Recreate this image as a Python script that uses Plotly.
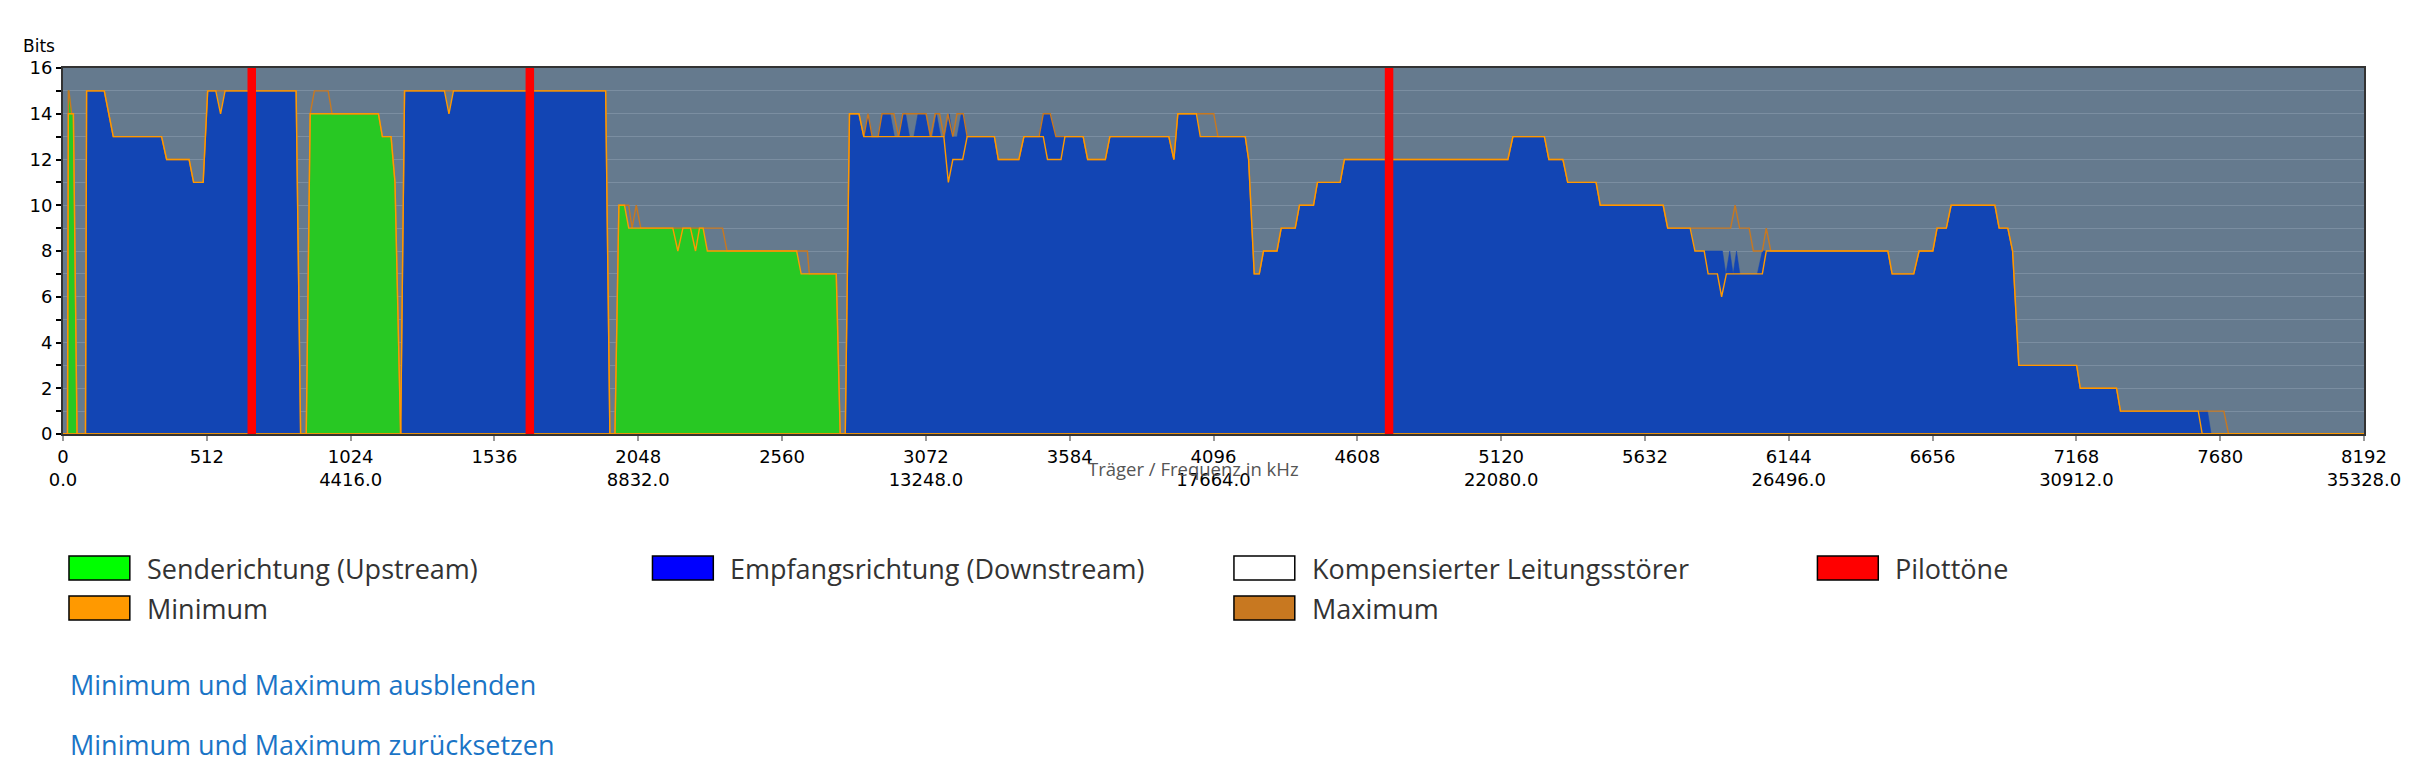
import plotly.graph_objects as go

# ---------------- data (carrier index, bits) ----------------
# Upstream (Senderichtung) current bit loading
us_points = [(0, 0), (16, 0), (19, 15), (21, 15), (31, 14), (37, 14), (50, 0),
             (866, 0), (880, 14), (1123, 14), (1137, 13), (1168, 13), (1182, 11), (1202, 0),
             (1965, 0), (1979, 10), (1999, 10), (2014, 9), (2279, 9), (2294, 8), (2612, 8),
             (2628, 7), (2753, 7), (2767, 0), (8192, 0)]
us_max_points = [(0, 0), (16, 0), (19, 15), (21, 15), (31, 14), (37, 14), (50, 0),
                 (866, 0), (880, 14), (895, 15), (944, 15), (958, 14), (1123, 14), (1137, 13),
                 (1168, 13), (1182, 11), (1202, 0),
                 (1965, 0), (1979, 10), (2014, 10), (2026, 9), (2041, 10), (2057, 9), (2348, 9),
                 (2364, 8), (2650, 8), (2657, 7), (2753, 7), (2767, 0), (8192, 0)]
us_min_points = [(0, 0), (16, 0), (19, 14), (37, 14), (50, 0),
                 (866, 0), (880, 14), (1123, 14), (1137, 13), (1168, 13), (1182, 11), (1202, 0),
                 (1965, 0), (1979, 10), (1999, 10), (2014, 9), (2171, 9), (2189, 8), (2207, 9),
                 (2234, 9), (2252, 8), (2266, 9), (2279, 9), (2294, 8), (2612, 8), (2628, 7),
                 (2753, 7), (2767, 0), (8192, 0)]

# Downstream (Empfangsrichtung) current bit loading
ds_points = [(0, 0), (80, 0), (84, 15), (147, 15), (163, 14), (179, 13), (351, 13), (369, 12),
             (449, 12), (465, 11), (499, 11), (515, 15), (544, 15), (561, 14), (577, 15),
             (830, 15), (846, 0),
             (1202, 0), (1216, 15), (1358, 15), (1374, 14), (1390, 15), (1932, 15), (1947, 0),
             (2785, 0), (2800, 14), (2834, 14), (2851, 13), (2866, 14), (2881, 13), (2902, 13),
             (2916, 14), (2945, 14), (2960, 13), (2975, 13), (2990, 14), (3000, 14), (3014, 13),
             (3029, 13), (3044, 14), (3070, 14), (3085, 13), (3095, 13), (3110, 14), (3125, 13),
             (3140, 13), (3155, 14), (3168, 13), (3183, 13), (3198, 14), (3205, 14), (3219, 13),
             (3316, 13), (3330, 12), (3403, 12), (3421, 13), (3475, 13), (3490, 14), (3515, 14),
             (3535, 13), (3632, 13), (3648, 12), (3711, 12), (3727, 13), (3937, 13), (3955, 12),
             (3969, 14), (4035, 14), (4049, 13), (4209, 13), (4221, 12), (4241, 7), (4259, 7),
             (4274, 8), (4322, 8), (4337, 9), (4387, 9), (4402, 10), (4452, 10), (4466, 11),
             (4547, 11), (4562, 12), (5144, 12), (5162, 13), (5274, 13), (5290, 12), (5340, 12),
             (5357, 11), (5458, 11), (5473, 10), (5697, 10), (5713, 9), (5793, 9), (5810, 8),
             (5908, 8), (5920, 7), (5934, 8), (5946, 7), (5958, 8), (5970, 7), (6032, 7),
             (6050, 8), (6497, 8), (6512, 7), (6589, 7), (6608, 8), (6657, 8), (6672, 9),
             (6705, 9), (6722, 10), (6878, 10), (6893, 9), (6924, 9), (6941, 8), (6963, 3),
             (7169, 3), (7182, 2), (7311, 2), (7325, 1), (7635, 1), (7648, 0), (8192, 0)]
ds_max_points = [(0, 0), (80, 0), (84, 15), (147, 15), (163, 14), (179, 13), (351, 13), (369, 12),
                 (449, 12), (465, 11), (499, 11), (515, 15), (830, 15), (846, 0),
                 (1202, 0), (1216, 15), (1932, 15), (1947, 0),
                 (2785, 0), (2800, 14), (2834, 14), (2851, 13), (2866, 14), (2881, 13), (2902, 13),
                 (2916, 14), (2958, 14), (2975, 13), (2990, 14), (3073, 14), (3089, 13), (3105, 14),
                 (3121, 14), (3136, 13), (3150, 14), (3168, 13), (3183, 14), (3205, 14), (3219, 13),
                 (3316, 13), (3330, 12), (3403, 12), (3421, 13), (3475, 13), (3490, 14), (3515, 14),
                 (3535, 13), (3632, 13), (3648, 12), (3711, 12), (3727, 13), (3937, 13), (3955, 12),
                 (3969, 14), (4097, 14), (4112, 13), (4209, 13), (4221, 12), (4241, 7), (4259, 7),
                 (4274, 8), (4322, 8), (4337, 9), (4387, 9), (4402, 10), (4452, 10), (4466, 11),
                 (4547, 11), (4562, 12), (5144, 12), (5162, 13), (5274, 13), (5290, 12), (5340, 12),
                 (5357, 11), (5458, 11), (5473, 10), (5697, 10), (5713, 9), (5937, 9), (5953, 10),
                 (5969, 9), (6003, 9), (6018, 8), (6050, 8), (6064, 9), (6080, 8), (6497, 8),
                 (6512, 7), (6589, 7), (6608, 8), (6657, 8), (6672, 9), (6705, 9), (6722, 10),
                 (6878, 10), (6893, 9), (6924, 9), (6941, 8), (6963, 3), (7169, 3), (7182, 2),
                 (7311, 2), (7325, 1), (7693, 1), (7710, 0), (8192, 0)]
ds_min_points = [(0, 0), (80, 0), (84, 15), (147, 15), (163, 14), (179, 13), (351, 13), (369, 12),
                 (449, 12), (465, 11), (499, 11), (515, 15), (544, 15), (561, 14), (577, 15),
                 (830, 15), (846, 0),
                 (1202, 0), (1216, 15), (1358, 15), (1374, 14), (1390, 15), (1932, 15), (1947, 0),
                 (2785, 0), (2800, 14), (2834, 14), (2851, 13), (3136, 13), (3152, 11), (3168, 12),
                 (3203, 12), (3219, 13), (3316, 13), (3330, 12), (3403, 12), (3421, 13), (3490, 13),
                 (3505, 12), (3553, 12), (3567, 13), (3632, 13), (3648, 12), (3711, 12), (3727, 13),
                 (3937, 13), (3955, 12), (3969, 14), (4035, 14), (4049, 13), (4209, 13), (4221, 12),
                 (4241, 7), (4259, 7), (4274, 8), (4322, 8), (4337, 9), (4387, 9), (4402, 10),
                 (4452, 10), (4466, 11), (4547, 11), (4562, 12), (5144, 12), (5162, 13), (5274, 13),
                 (5290, 12), (5340, 12), (5357, 11), (5458, 11), (5473, 10), (5697, 10), (5713, 9),
                 (5793, 9), (5810, 8), (5843, 8), (5857, 7), (5890, 7), (5905, 6), (5922, 7),
                 (6050, 7), (6064, 8), (6497, 8), (6512, 7), (6589, 7), (6608, 8), (6657, 8),
                 (6672, 9), (6705, 9), (6722, 10), (6878, 10), (6893, 9), (6924, 9), (6941, 8),
                 (6963, 3), (7169, 3), (7182, 2), (7311, 2), (7325, 1), (7602, 1), (7616, 0),
                 (8192, 0)]

# Pilot tones (carrier index)
pilot_carriers = [672, 1662, 4721]

# Axis ticks
x_tick_vals = [0, 512, 1024, 1536, 2048, 2560, 3072, 3584, 4096, 4608, 5120, 5632, 6144,
               6656, 7168, 7680, 8192]
x_tick_freq = ["0.0", "", "4416.0", "", "8832.0", "", "13248.0", "", "17664.0", "",
               "22080.0", "", "26496.0", "", "30912.0", "", "35328.0"]
y_tick_vals = list(range(17))
y_tick_text = ["0", "", "2", "", "4", "", "6", "", "8", "", "10", "", "12", "", "14", "", "16"]

legend_items = [("Senderichtung (Upstream)", "#00ff00"),
                ("Empfangsrichtung (Downstream)", "#0000ff"),
                ("Kompensierter Leitungsstörer", "#ffffff"),
                ("Pilottöne", "#ff0000"),
                ("Minimum", "#ff9900"),
                ("Maximum", "#c87820")]
link_texts = ["Minimum und Maximum ausblenden", "Minimum und Maximum zurücksetzen"]

# ---------------- style / layout constants ----------------
C_BG = "#657a8e"
C_GRID = "#7b8ea1"
C_DS = "#1245b4"
C_US = "#28c823"
C_MIN = "#ff9900"
C_MAX = "#c87820"
C_PILOT = "#ff0000"

PL, PR, PT, PB = 63, 2370, 68, 434   # plot area in page pixels
FIG_W, FIG_H = 2413, 763


def px(X):
    return (X - PL) / (PR - PL)


def py(Y):
    return (PB - Y) / (PB - PT)


def unzip(points):
    return [p[0] for p in points], [p[1] for p in points]


fig = go.Figure()

for pts, col in [(ds_points, C_DS), (us_points, C_US)]:
    xs, ys = unzip(pts)
    fig.add_trace(go.Scatter(x=xs, y=ys, mode="lines", fill="tozeroy", fillcolor=col,
                             line=dict(color=col, width=0.5), hoverinfo="skip",
                             showlegend=False))

for pts, col in [(ds_max_points, C_MAX), (us_max_points, C_MAX),
                 (ds_min_points, C_MIN), (us_min_points, C_MIN)]:
    xs, ys = unzip(pts)
    fig.add_trace(go.Scatter(x=xs, y=ys, mode="lines", line=dict(color=col, width=1.4),
                             hoverinfo="skip", showlegend=False))

pilot_x, pilot_y = [], []
for c in pilot_carriers:
    pilot_x += [c, c, None]
    pilot_y += [0, 16, None]
fig.add_trace(go.Scatter(x=pilot_x, y=pilot_y, mode="lines",
                         line=dict(color=C_PILOT, width=8.5),
                         hoverinfo="skip", showlegend=False))

x_tick_text = [f"{v}<br>{f}" if f else str(v) for v, f in zip(x_tick_vals, x_tick_freq)]

tick_font = dict(family="DejaVu Sans", size=18, color="#000000")
fig.update_xaxes(range=[0, 8192], tickmode="array", tickvals=x_tick_vals, ticktext=x_tick_text,
                 ticks="outside", ticklen=5, tickwidth=1.5, tickcolor="#999999",
                 showgrid=False, zeroline=False, showline=True, linecolor="#333333",
                 linewidth=2, mirror=True, tickfont=tick_font, ticklabeloverflow="allow")
fig.update_yaxes(range=[0, 16], tickmode="array", tickvals=y_tick_vals, ticktext=y_tick_text,
                 ticks="outside", ticklen=5, tickwidth=1.5, tickcolor="#000000",
                 showgrid=True, gridcolor=C_GRID, gridwidth=1, zeroline=False,
                 showline=True, linecolor="#333333", linewidth=2, mirror=True,
                 tickfont=tick_font)

shapes = []
annotations = []

annotations.append(dict(text="Bits", x=px(57), y=py(46), xref="paper", yref="paper",
                        xanchor="right", yanchor="middle", showarrow=False,
                        font=dict(family="DejaVu Sans", size=17, color="#000000")))
annotations.append(dict(text="Träger / Frequenz in kHz", x=px(1196), y=py(468), xref="paper",
                        yref="paper", xanchor="center", yanchor="middle", showarrow=False,
                        font=dict(family="Open Sans", size=18.5, color="#555555")))

legend_pos = [(69, 568), (654, 568), (1237, 568), (1822, 568), (69, 608), (1237, 608)]
for (label, col), (X, Y) in zip(legend_items, legend_pos):
    shapes.append(dict(type="rect", xref="paper", yref="paper", x0=px(X), x1=px(X + 61),
                       y0=py(Y - 12), y1=py(Y + 12), fillcolor=col,
                       line=dict(color="#000000", width=1.5), layer="above"))
    annotations.append(dict(text=label, x=px(X + 76), y=py(Y), xref="paper", yref="paper",
                            xanchor="left", yanchor="middle", showarrow=False,
                            font=dict(family="Open Sans", size=27, color="#333333")))

for text, Y in zip(link_texts, [684, 744]):
    annotations.append(dict(text=text, x=px(68), y=py(Y), xref="paper", yref="paper",
                            xanchor="left", yanchor="middle", showarrow=False,
                            font=dict(family="Open Sans", size=27, color="#1a74c6")))

fig.update_layout(width=FIG_W, height=FIG_H, autosize=False,
                  margin=dict(l=PL, r=FIG_W - PR, t=PT, b=FIG_H - PB, pad=0),
                  plot_bgcolor=C_BG, paper_bgcolor="#ffffff",
                  shapes=shapes, annotations=annotations, showlegend=False)

fig.write_html("out.html",
               config={"displayModeBar": False, "responsive": False},
               post_script="document.body.style.margin='0';"
                           "document.body.style.overflow='hidden';")
